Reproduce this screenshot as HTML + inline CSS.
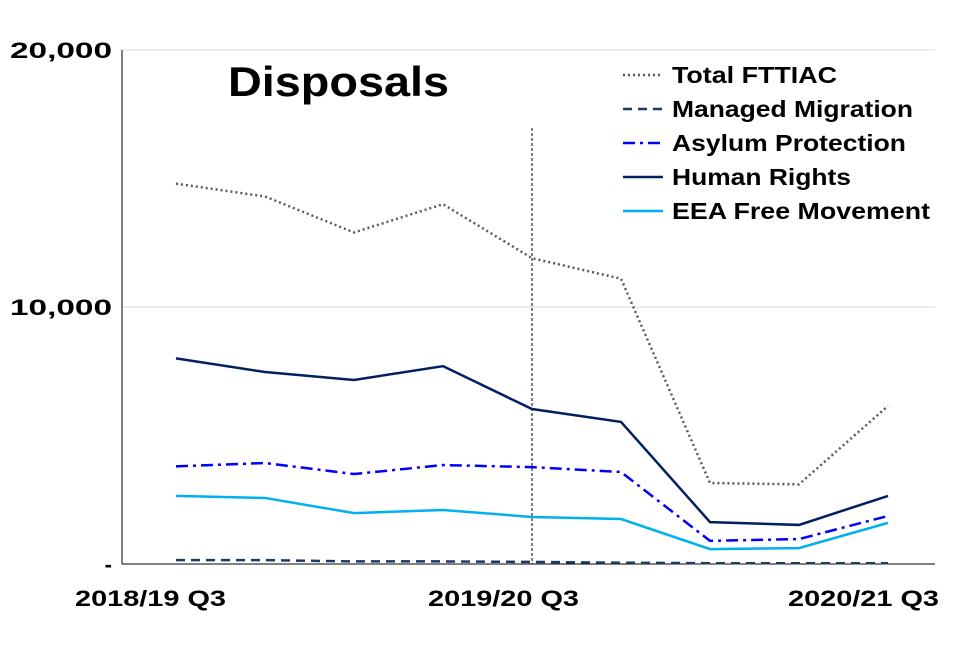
<!DOCTYPE html>
<html><head><meta charset="utf-8"><style>
body{margin:0;background:#fff;}
svg text{font-family:"Liberation Sans",Arial,sans-serif;font-weight:bold;fill:#000;}
</style></head><body>
<svg width="960" height="640" viewBox="0 0 960 640">
<g id="axes"></g><g id="series"></g><g id="legend"></g>
<text x="228" y="96" font-size="42" textLength="221" lengthAdjust="spacingAndGlyphs">Disposals</text>
</svg>
<script>
const categories=["2018/19 Q3","2018/19 Q4","2019/20 Q1","2019/20 Q2","2019/20 Q3","2019/20 Q4","2020/21 Q1","2020/21 Q2","2020/21 Q3"];
const shownLabels=["2018/19 Q3","2019/20 Q3","2020/21 Q3"];
const yTicks=[0,10000,20000];
const yTickLabels=["-","10,000","20,000"];
const totalFTTIAC=[14800,14300,12900,14000,11900,11100,3150,3100,6150];
const managedMigration=[150,150,100,100,80,50,30,30,30];
const asylumProtection=[3800,3930,3500,3850,3770,3580,900,970,1870];
const humanRights=[8000,7470,7160,7700,6030,5530,1630,1520,2650];
const eeaFreeMovement=[2650,2570,1980,2100,1830,1750,580,620,1600];
const ns="http://www.w3.org/2000/svg";
const X0=176,DX=89,Y0=564,YS=(564-50)/20000;
const xs=i=>X0+DX*i, ys=v=>Y0-v*YS;
function mk(p,t,a){const e=document.createElementNS(ns,t);for(const k in a)e.setAttribute(k,a[k]);p.appendChild(e);return e;}
const ax=document.getElementById('axes');
yTicks.forEach((v,i)=>{
 if(v>0){const g=mk(ax,'line',{x1:122,x2:935,y1:ys(v),y2:ys(v),stroke:'#d9d9d9','stroke-width':1});
 
 }
 const a={x:112,y:ys(v)+8,'text-anchor':'end','font-size':22};
 if(v>0){a.textLength=102;a.lengthAdjust='spacingAndGlyphs';}
 const t=mk(ax,'text',a);t.textContent=yTickLabels[i];
 
 
});
let l=mk(ax,'line',{x1:122,x2:122,y1:50,y2:564,stroke:'#000','stroke-width':1});


l=mk(ax,'line',{x1:122,x2:935,y1:564,y2:564,stroke:'#000','stroke-width':1});


shownLabels.forEach(s=>{const i=categories.indexOf(s);
 const cx=i===0?150:(i===8?863:503);
 const t=mk(ax,'text',{x:cx-75,y:606,'font-size':22,textLength:151,lengthAdjust:'spacingAndGlyphs'});
 t.textContent=s;
 
 });
l=mk(ax,'line',{x1:xs(4),x2:xs(4),y1:128,y2:564,stroke:'#000','stroke-width':1,'stroke-dasharray':'3,2'});


const series=[
 ["Total FTTIAC",totalFTTIAC,'#595959','2,3',2.5,165],
 ["Managed Migration",managedMigration,'#1f3864','9,6',2.5,241],
 ["Asylum Protection",asylumProtection,'#0000ff','12,5,3,5',2.5,234],
 ["Human Rights",humanRights,'#002060','',2.5,179],
 ["EEA Free Movement",eeaFreeMovement,'#00b0f0','',2.5,258]];
const sg=document.getElementById('series'),lg=document.getElementById('legend');
series.forEach((s,k)=>{
 const p=mk(sg,'polyline',{points:s[1].map((v,i)=>xs(i)+','+ys(v)).join(' '),fill:'none',stroke:s[2],'stroke-width':s[4],'stroke-dasharray':s[3]});
 
 
 const y=75+34*k;
 const g=mk(lg,'g',{});
 
 
 mk(g,'line',{x1:623,x2:663,y1:y,y2:y,stroke:s[2],'stroke-width':s[4],'stroke-dasharray':s[3]});
 const t=mk(g,'text',{x:672,y:y+8,'font-size':23,textLength:s[5],lengthAdjust:'spacingAndGlyphs'});t.textContent=s[0];
});
</script>
</body></html>
